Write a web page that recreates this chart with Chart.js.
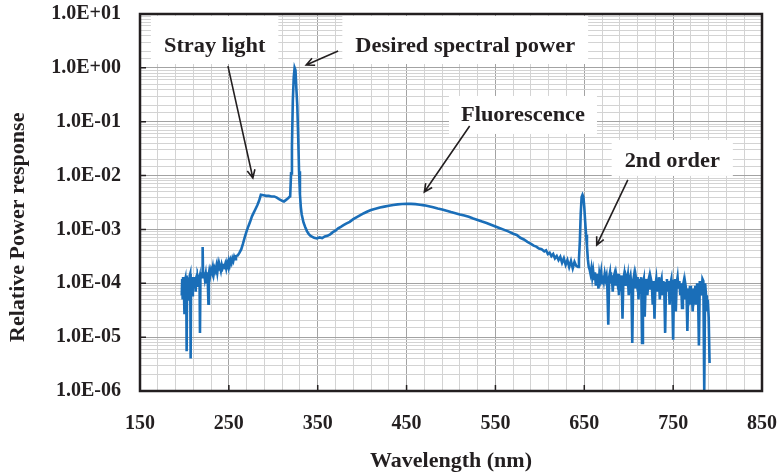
<!DOCTYPE html>
<html>
<head>
<meta charset="utf-8">
<script src="https://cdn.jsdelivr.net/npm/chart.js@4.4.1/dist/chart.umd.min.js"></script>
<style>
  html, body { margin: 0; padding: 0; background: #fff; }
  #wrap { width: 782px; height: 475px; }
</style>
</head>
<body>
<div id="wrap"><canvas id="chart"></canvas></div>
<script>
// spectrum (nm, relative power)
const wavelength = [
  197, 197.5, 198, 198.5, 199, 199.5, 200, 200.5, 201, 201.5,
  202, 202.5, 203, 203.5, 204, 204.5, 205, 205.5, 206, 206.5,
  207, 207.5, 208, 208.5, 209, 209.5, 210, 210.5, 211, 211.5,
  212, 212.5, 213, 214, 214.5, 215, 216, 217, 217.5, 218,
  219, 220, 220.5, 221, 222, 223, 224, 225, 226, 227,
  227.5, 228, 229, 230, 231, 232, 233, 234, 235, 236,
  237, 238, 239, 240, 241, 242, 243, 244, 245, 246,
  247, 248, 249, 250, 251, 252, 253, 254, 255, 256,
  257, 258, 260, 262, 264, 266, 268, 270, 272, 274,
  276, 278, 280, 282, 284, 286, 289, 292, 295, 298,
  301, 304, 307, 310, 312, 314, 316, 318, 319, 320,
  321, 322, 323, 324, 325, 326, 327, 328, 329, 330,
  331, 332, 334, 336, 338, 340, 342, 344, 346, 349,
  352, 355, 358, 361, 364, 367, 370, 373, 376, 379,
  382, 386, 390, 394, 398, 402, 406, 410, 415, 420,
  425, 430, 435, 440, 445, 450, 455, 460, 465, 470,
  475, 480, 485, 490, 495, 500, 505, 510, 515, 520,
  525, 530, 535, 540, 545, 550, 555, 560, 565, 570,
  574, 578, 582, 586, 590, 593, 596, 599, 602, 605,
  607, 609, 611, 613, 615, 617, 619, 621, 623, 625,
  627, 629, 631, 633, 635, 637, 639, 641, 643, 644,
  645, 646, 647, 648, 649, 650, 651, 652, 653, 654,
  655, 656, 657, 658, 659, 660, 661, 662, 663, 664,
  665, 666, 667, 668, 669, 670, 671, 672, 673, 674,
  675, 676, 677, 678, 679, 680, 681, 682, 683, 684,
  685, 686, 687, 688, 689, 690, 691, 692, 693, 694,
  695, 696, 697, 698, 699, 700, 701, 702, 703, 704,
  705, 706, 707, 708, 709, 710, 711, 712, 713, 714,
  715, 716, 717, 718, 719, 720, 721, 722, 723, 724,
  725, 726, 727, 728, 729, 730, 731, 732, 733, 734,
  735, 736, 737, 738, 739, 740, 741, 742, 743, 744,
  745, 746, 747, 748, 749, 750, 751, 752, 753, 754,
  755, 756, 757, 758, 759, 760, 761, 762, 763, 764,
  765, 766, 767, 768, 769, 770, 771, 772, 773, 774,
  775, 776, 777, 778, 779, 780, 781, 782, 783, 784,
  785, 786, 787, 788, 789, 790, 791
];
const response = [
  6.0e-5, 1.2e-4, 5.0e-5, 1.3e-4, 7.0e-5, 1.0e-4, 2.8e-5, 1.1e-4, 1.2e-4, 6.0e-5,
  1.4e-4, 5.5e-6, 1.1e-4, 8.0e-5, 1.3e-4, 5.0e-5, 1.2e-4, 7.0e-5, 1.4e-4, 1.5e-4,
  4.0e-6, 1.2e-4, 9.0e-5, 1.3e-4, 6.0e-5, 1.1e-4, 1.3e-4, 8.0e-5, 1.2e-4, 1.0e-4,
  1.3e-4, 7.0e-5, 1.2e-4, 1.4e-4, 9.0e-5, 1.3e-4, 1.1e-4, 1.3e-4, 1.2e-5, 1.2e-4,
  1.4e-4, 1.3e-4, 4.7e-4, 1.3e-4, 1.6e-4, 1.2e-4, 1.5e-4, 1.0e-4, 1.6e-4, 4.2e-5,
  1.5e-4, 1.7e-4, 1.4e-4, 1.8e-4, 1.6e-4, 2.0e-4, 1.5e-4, 1.9e-4, 1.7e-4, 2.1e-4,
  1.6e-4, 2.2e-4, 1.8e-4, 2.0e-4, 1.7e-4, 2.2e-4, 1.9e-4, 2.1e-4, 2.0e-4, 2.3e-4,
  1.9e-4, 2.4e-4, 2.1e-4, 2.6e-4, 2.2e-4, 2.7e-4, 2.4e-4, 2.9e-4, 2.6e-4, 3.1e-4,
  2.8e-4, 3.2e-4, 3.3e-4, 3.7e-4, 4.3e-4, 5.5e-4, 7.3e-4, 9.3e-4, 1.15e-3, 1.4e-3,
  1.75e-3, 2.05e-3, 2.4e-3, 2.8e-3, 3.4e-3, 4.4e-3, 4.3e-3, 4.2e-3, 4.2e-3, 4.1e-3,
  4.1e-3, 3.9e-3, 3.6e-3, 3.4e-3, 3.3e-3, 3.5e-3, 3.7e-3, 4.0e-3, 4.1e-3, 1.1e-2,
  3.5e-2, 2.5e-1, 6.5e-1, 1.0, 9.0e-1, 4.0e-1, 2.0e-1, 5.5e-2, 1.2e-2, 4.5e-3,
  2.6e-3, 1.9e-3, 1.35e-3, 1.1e-3, 9.2e-4, 8.2e-4, 7.6e-4, 7.3e-4, 7.0e-4, 6.8e-4,
  7.1e-4, 6.9e-4, 7.4e-4, 7.6e-4, 8.1e-4, 8.9e-4, 9.5e-4, 1.05e-3, 1.12e-3, 1.2e-3,
  1.28e-3, 1.38e-3, 1.55e-3, 1.7e-3, 1.85e-3, 2.0e-3, 2.15e-3, 2.3e-3, 2.42e-3, 2.55e-3,
  2.65e-3, 2.75e-3, 2.85e-3, 2.92e-3, 2.97e-3, 3.0e-3, 2.98e-3, 2.95e-3, 2.88e-3, 2.8e-3,
  2.7e-3, 2.58e-3, 2.45e-3, 2.35e-3, 2.22e-3, 2.1e-3, 2.0e-3, 1.9e-3, 1.82e-3, 1.72e-3,
  1.6e-3, 1.5e-3, 1.4e-3, 1.32e-3, 1.22e-3, 1.13e-3, 1.05e-3, 9.8e-4, 9.1e-4, 8.3e-4,
  7.9e-4, 7.0e-4, 6.5e-4, 5.9e-4, 5.4e-4, 5.0e-4, 4.8e-4, 4.4e-4, 4.3e-4, 3.9e-4,
  4.1e-4, 3.5e-4, 3.7e-4, 3.2e-4, 3.5e-4, 2.9e-4, 3.2e-4, 2.7e-4, 3.1e-4, 2.4e-4,
  2.9e-4, 2.2e-4, 2.7e-4, 2.0e-4, 2.6e-4, 1.9e-4, 2.5e-4, 2.1e-4, 2.0e-4, 2.8e-4,
  6.0e-4, 2.0e-3, 4.0e-3, 4.4e-3, 4.0e-3, 2.6e-3, 1.4e-3, 8.0e-4, 5.0e-4, 2.8e-4,
  2.0e-4, 1.8e-4, 1.5e-4, 1.9e-4, 1.3e-4, 1.7e-4, 1.2e-4, 1.6e-4, 9.0e-5, 1.5e-4,
  1.1e-4, 8.0e-5, 1.5e-4, 1.2e-4, 1.6e-4, 1.0e-4, 1.4e-4, 1.1e-4, 1.5e-4, 1.2e-4,
  1.4e-4, 8.0e-5, 1.7e-5, 1.3e-4, 1.6e-4, 1.0e-4, 1.4e-4, 7.0e-5, 1.3e-4, 1.5e-4,
  9.0e-5, 1.4e-4, 1.1e-4, 1.5e-4, 6.0e-5, 1.3e-4, 1.0e-4, 1.4e-4, 2.2e-5, 1.2e-4,
  1.5e-4, 9.0e-5, 1.3e-4, 1.1e-4, 1.4e-4, 6.0e-5, 1.2e-4, 1.4e-4, 9.0e-5, 7.8e-6,
  1.1e-4, 1.4e-4, 8.0e-5, 1.3e-4, 1.0e-4, 1.3e-4, 5.0e-5, 1.2e-4, 9.0e-5, 1.3e-4,
  7.8e-6, 1.0e-4, 1.2e-4, 2.4e-5, 9.0e-5, 1.2e-4, 6.0e-5, 1.1e-4, 1.3e-4, 8.0e-5,
  1.2e-4, 1.0e-4, 4.0e-5, 1.1e-4, 2.2e-5, 9.0e-5, 1.2e-4, 7.0e-5, 1.1e-4, 1.3e-4,
  5.0e-5, 1.0e-4, 1.2e-4, 6.0e-5, 1.1e-4, 8.0e-5, 1.2e-5, 1.0e-4, 1.2e-4, 7.0e-5,
  1.1e-4, 4.0e-5, 1.0e-4, 1.2e-4, 6.0e-5, 9.0e-6, 1.1e-4, 1.2e-4, 3.0e-5, 1.0e-4,
  1.3e-4, 8.0e-5, 1.1e-4, 6.0e-5, 1.0e-4, 3.5e-5, 9.0e-5, 1.1e-4, 5.0e-5, 9.0e-5,
  7.0e-5, 1.3e-5, 8.0e-5, 6.0e-5, 9.0e-5, 4.0e-5, 7.0e-5, 3.0e-5, 8.0e-5, 6.0e-5,
  9.0e-5, 4.0e-5, 1.0e-4, 7.0e-5, 7.0e-6, 1.1e-4, 8.0e-5, 6.0e-5, 1.2e-4, 1.1e-4,
  1.0e-6, 1.0e-4, 6.0e-5, 3.0e-5, 5.0e-5, 2.3e-5, 3.3e-6
];

const xTickValues = [150, 250, 350, 450, 550, 650, 750, 850];
const xTickLabels = ["150", "250", "350", "450", "550", "650", "750", "850"];
const yTickValues = [1e-6, 1e-5, 1e-4, 1e-3, 1e-2, 1e-1, 1, 10];
const yTickLabels = ["1.0E-06", "1.0E-05", "1.0E-04", "1.0E-03", "1.0E-02", "1.0E-01", "1.0E+00", "1.0E+01"];

// callouts: text centre, arrow tail, arrow head (data units)
const noteText = ["Stray light", "Desired spectral power", "Fluorescence", "2nd order"];
const noteAt = [[234, 2.44], [516, 2.44], [581, 0.128], [749, 0.0179]];
const arrowFrom = [[249, 1.08], [373, 2.06], [521, 0.083], [699, 0.0083]];
const arrowTo = [[277, 0.009], [337, 1.13], [470, 0.00495], [664, 0.00051]];

const ink = "#231f20";
const isDecade = (v) => Math.abs(Math.log10(v) - Math.round(Math.log10(v))) < 1e-6;

// white boxes behind callout text: [padX, padTop, padBottom]
const boxPad = [[13, 31, 17], [13, 31, 17], [12, 20, 18], [13, 22, 14]];

const calloutPlugin = {
  id: "callouts",
  beforeDatasetsDraw(chart) {
    const { ctx, scales: { x, y } } = chart;
    ctx.save();
    ctx.font = "bold 20px 'Liberation Serif'";
    noteText.forEach((t, i) => {
      const cx = x.getPixelForValue(noteAt[i][0]);
      const cy = y.getPixelForValue(noteAt[i][1]);
      const w = ctx.measureText(t).width * 1.12;
      const p = boxPad[i];
      ctx.fillStyle = "#fff";
      ctx.fillRect(cx - w / 2 - p[0], cy - p[1], w + 2 * p[0], p[1] + p[2]);
    });
    ctx.restore();
  },
  afterDatasetsDraw(chart) {
    const { ctx, chartArea: a, scales: { x, y } } = chart;
    ctx.save();
    ctx.fillStyle = ink;
    ctx.strokeStyle = ink;
    ctx.font = "bold 20px 'Liberation Serif'";
    ctx.textAlign = "center";
    ctx.textBaseline = "middle";
    noteText.forEach((t, i) => {
      const cx = x.getPixelForValue(noteAt[i][0]);
      const cy = y.getPixelForValue(noteAt[i][1]);
      ctx.save();
      ctx.translate(cx, cy);
      ctx.scale(1.12, 1);
      ctx.fillText(t, 0, 0);
      ctx.restore();

      const x0 = x.getPixelForValue(arrowFrom[i][0]);
      const y0 = y.getPixelForValue(arrowFrom[i][1]);
      const x1 = x.getPixelForValue(arrowTo[i][0]);
      const y1 = y.getPixelForValue(arrowTo[i][1]);
      const ang = Math.atan2(y1 - y0, x1 - x0);
      ctx.lineWidth = 1.6;
      ctx.beginPath();
      ctx.moveTo(x0, y0);
      ctx.lineTo(x1, y1);
      ctx.moveTo(x1 - 9 * Math.cos(ang - 0.45), y1 - 9 * Math.sin(ang - 0.45));
      ctx.lineTo(x1, y1);
      ctx.lineTo(x1 - 9 * Math.cos(ang + 0.45), y1 - 9 * Math.sin(ang + 0.45));
      ctx.stroke();
    });

    // frame and inward major ticks
    ctx.lineWidth = 2.5;
    ctx.strokeRect(a.left, a.top, a.right - a.left, a.bottom - a.top);
    ctx.lineWidth = 1.5;
    ctx.beginPath();
    xTickValues.forEach((v) => {
      const px = x.getPixelForValue(v);
      ctx.moveTo(px, a.bottom);
      ctx.lineTo(px, a.bottom - 6);
    });
    yTickValues.forEach((v) => {
      const py = y.getPixelForValue(v);
      ctx.moveTo(a.left, py);
      ctx.lineTo(a.left + 6, py);
    });
    ctx.stroke();
    ctx.restore();
  }
};

const points = wavelength.map((w, i) => ({ x: w, y: response[i] }));

new Chart(document.getElementById("chart"), {
  type: "line",
  data: {
    datasets: [{
      data: points,
      borderColor: "#1a6eb8",
      borderWidth: 2.6,
      pointRadius: 0,
      tension: 0,
      fill: false
    }]
  },
  options: {
    responsive: true,
    maintainAspectRatio: false,
    animation: false,
    events: [],
    layout: { padding: { top: 14, right: 20, left: 0, bottom: 0 } },
    plugins: { legend: { display: false }, tooltip: { enabled: false } },
    scales: {
      x: {
        type: "linear",
        min: 150,
        max: 850,
        afterBuildTicks(scale) {
          const t = [];
          for (let v = 150; v <= 850; v += 20) t.push({ value: v });
          scale.ticks = t;
        },
        afterFit(scale) {
          scale.height = 84;
          scale.paddingLeft = 0;
          scale.paddingRight = 0;
        },
        ticks: {
          autoSkip: false,
          maxRotation: 0,
          padding: 21,
          color: ink,
          font: { family: "'Liberation Serif'", size: 20, weight: "bold" },
          callback(v) {
            const i = xTickValues.indexOf(v);
            return i >= 0 ? xTickLabels[i] : "";
          }
        },
        grid: {
          drawTicks: false,
          color: (c) => xTickValues.includes(c.tick.value) ? "#a3a3a3" : "#d3d3d3",
          lineWidth: 1
        },
        border: { display: false },
        title: {
          display: true,
          text: "Wavelength (nm)",
          color: ink,
          padding: { top: 0, bottom: 0 },
          font: { family: "'Liberation Serif'", size: 22, weight: "bold" }
        }
      },
      y: {
        type: "logarithmic",
        min: 1e-6,
        max: 10,
        afterFit(scale) {
          scale.width = 140;
          scale.paddingTop = 0;
          scale.paddingBottom = 0;
        },
        ticks: {
          autoSkip: false,
          padding: 19,
          color: ink,
          font: { family: "'Liberation Serif'", size: 20, weight: "bold" },
          callback(v) {
            const i = yTickValues.findIndex((t) => Math.abs(Math.log10(t) - Math.log10(v)) < 1e-6);
            return i >= 0 ? yTickLabels[i] : "";
          }
        },
        grid: {
          drawTicks: false,
          color: (c) => isDecade(c.tick.value) ? "#a3a3a3" : "#d3d3d3",
          lineWidth: 1
        },
        border: { display: false },
        title: {
          display: true,
          text: "Relative Power response         ",
          color: ink,
          padding: { top: 5, bottom: 0 },
          font: { family: "'Liberation Serif'", size: 22, weight: "bold" }
        }
      }
    }
  },
  plugins: [calloutPlugin]
});
</script>
</body>
</html>
